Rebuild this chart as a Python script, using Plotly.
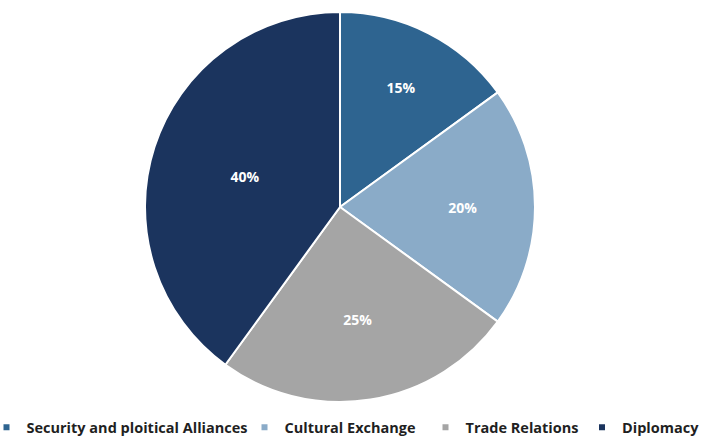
import plotly.graph_objects as go

categories = ["Security and ploitical Alliances", "Cultural Exchange", "Trade Relations", "Diplomacy"]
shares = [15, 20, 25, 40]
colors = ["#2E6490", "#8AABC8", "#A5A5A5", "#1B345E"]

W, H = 701, 436
cx, cy, r = 340, 207, 195
font_family = "Open Sans"

# left edge (px) of each legend entry along the bottom row
legend_left_px = [-13.5, 244.5, 425.5, 582]

fig = go.Figure()

fig.add_trace(go.Pie(
    labels=categories,
    values=shares,
    sort=False,
    direction="clockwise",
    rotation=0,
    marker=dict(colors=colors, line=dict(color="white", width=2)),
    texttemplate="%{value}%",
    textposition="inside",
    insidetextorientation="horizontal",
    textfont=dict(family=font_family, size=14, color="white", weight="bold"),
    domain=dict(x=[(cx - r) / W, (cx + r) / W], y=[1 - (cy + r) / H, 1 - (cy - r) / H]),
    hoverinfo="label+percent",
    showlegend=False,
))

legend_style = dict(
    orientation="h",
    xanchor="left",
    y=-0.017, yanchor="bottom",
    font=dict(family=font_family, size=14.5, color="#1f1f1f", weight="bold"),
    itemwidth=30,
    bgcolor="rgba(0,0,0,0)",
)

layout_legends = {}
for i, (name, col) in enumerate(zip(categories, colors)):
    key = "legend" if i == 0 else f"legend{i + 1}"
    fig.add_trace(go.Scatter(
        x=[None], y=[None], mode="markers", name=name,
        marker=dict(symbol="square", size=6, color=col),
        showlegend=True, hoverinfo="skip", legend=key,
    ))
    layout_legends[key] = dict(legend_style, x=legend_left_px[i] / W)

fig.update_layout(
    width=W, height=H,
    margin=dict(l=0, r=0, t=0, b=0, autoexpand=False),
    paper_bgcolor="white",
    plot_bgcolor="white",
    xaxis=dict(visible=False),
    yaxis=dict(visible=False),
    **layout_legends,
)

fig.write_html("out.html")
